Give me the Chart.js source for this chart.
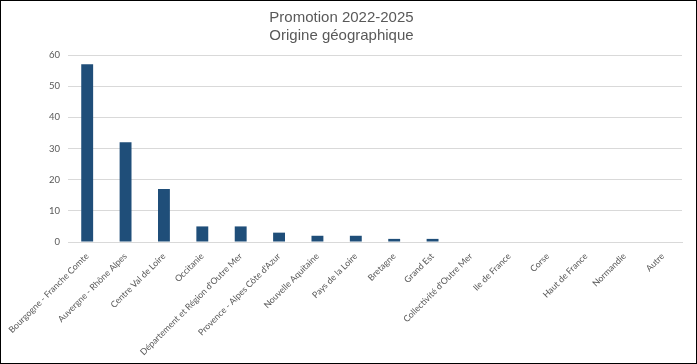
<!DOCTYPE html>
<html>
<head>
<meta charset="utf-8">
<script src="https://cdn.jsdelivr.net/npm/chart.js@4"></script>
<style>
  body { margin: 0; background: #fff; }
  #wrap { width: 697px; height: 364px; box-sizing: border-box; border: 1px solid #000; }
</style>
</head>
<body>
<div id="wrap"><canvas id="chart" width="695" height="362"></canvas></div>
<script>
// Chart data
const regions = [
    'Bourgogne - Franche Comte',
    'Auvergne - Rhône Alpes',
    'Centre Val de Loire',
    'Occitanie',
    'Département et Région d\'Outre Mer',
    'Provence - Alpes Côte d\'Azur',
    'Nouvelle Aquitaine',
    'Pays de la Loire',
    'Bretagne',
    'Grand Est',
    'Collectivité d\'Outre Mer',
    'Ile de France',
    'Corse',
    'Haut de France',
    'Normandie',
    'Autre'
];
const students = [57, 32, 17, 5, 5, 3, 2, 2, 1, 1, 0, 0, 0, 0, 0, 0];
const titleLines = ['Promotion 2022-2025', 'Origine géographique'];

const ctx = document.getElementById('chart').getContext('2d');

new Chart(ctx, {
    type: 'bar',
    data: {
        labels: regions,
        datasets: [{
            label: 'Origine',
            data: students,
            backgroundColor: '#1f4e79',
            barPercentage: 0.62,
            categoryPercentage: 0.5
        }]
    },
    options: {
        responsive: false,
        animation: false,
        layout: { padding: { top: 8, right: 14, left: 0, bottom: 0 } },
        plugins: {
            legend: { display: false },
            tooltip: { enabled: false },
            title: {
                display: true,
                text: titleLines,
                color: '#595959',
                font: { family: 'Liberation Sans', size: 15, weight: 'normal', lineHeight: 1.2 },
                padding: { top: 0, bottom: 10 }
            }
        },
        scales: {
            x: {
                grid: { display: false },
                border: { color: '#d9d9d9' },
                ticks: {
                    color: '#595959',
                    font: { family: 'Lato', size: 8.8 },
                    maxRotation: 45,
                    minRotation: 45,
                    autoSkip: false,
                    padding: 1
                },
                afterFit: (scale) => {
                    scale.height = 121;
                    scale.paddingLeft = 0;
                    scale.paddingRight = 0;
                }
            },
            y: {
                min: 0,
                max: 60,
                ticks: {
                    stepSize: 10,
                    color: '#595959',
                    font: { family: 'Lato', size: 9.5 },
                    padding: 8
                },
                grid: { color: '#d9d9d9', drawTicks: false },
                border: { display: false },
                afterFit: (scale) => { scale.width = 67; }
            }
        }
    }
});
</script>
</body>
</html>
